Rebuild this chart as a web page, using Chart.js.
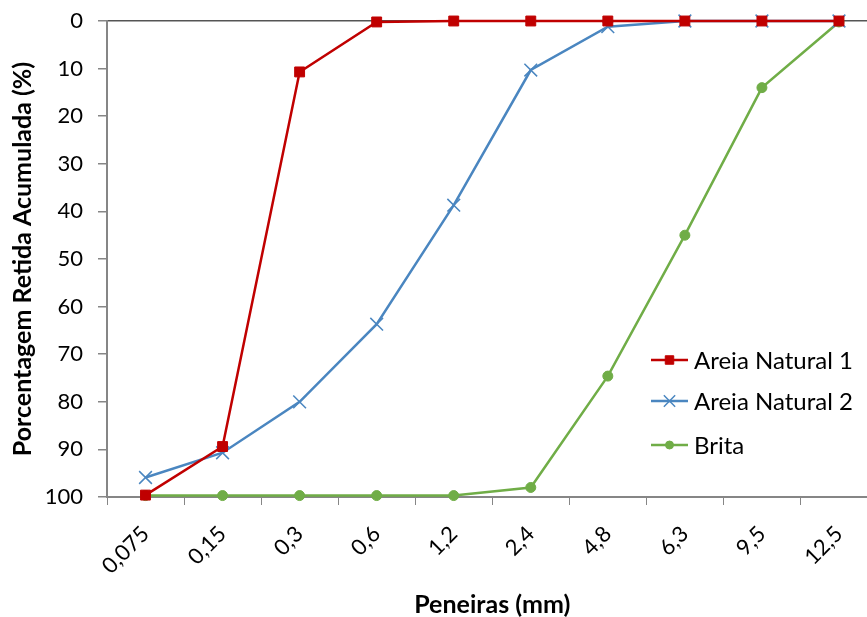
<!DOCTYPE html>
<html>
<head>
<meta charset="utf-8">
<script src="https://cdn.jsdelivr.net/npm/chart.js@4.4.1/dist/chart.umd.min.js"></script>
<style>
  html, body { margin: 0; padding: 0; background: #fff; overflow: hidden; }
  #wrap { width: 888px; height: 617px; }
</style>
</head>
<body>
<div id="wrap"><canvas id="chart" width="888" height="617"></canvas></div>
<script>
// sieve sizes (mm)
const peneiras = ['0,075', '0,15', '0,3', '0,6', '1,2', '2,4', '4,8', '6,3', '9,5', '12,5'];

// cumulative retained (%)
const areiaNatural1 = [99.6, 89.4, 10.7, 0.2, 0, 0, 0, 0, 0, 0];
const areiaNatural2 = [95.9, 90.7, 80.0, 63.7, 38.7, 10.3, 1.2, 0, 0, 0];
const brita = [99.7, 99.7, 99.7, 99.7, 99.7, 98.0, 74.6, 45.0, 14.0, 0.2];

const yTicks = [0, 10, 20, 30, 40, 50, 60, 70, 80, 90, 100];

const FONT = 'Lato, "Open Sans", sans-serif';
const AXIS_GRAY = '#868686';

// legend drawn inside the plot, like the Excel one
const insideLegend = {
  id: 'insideLegend',
  afterDraw(chart) {
    const ctx = chart.ctx;
    const x0 = 651, x1 = 688, tx = 694;
    const rows = [360, 401, 445];
    ctx.save();
    ctx.textBaseline = 'middle';
    chart.data.datasets.forEach((ds, i) => {
      const y = rows[i];
      ctx.strokeStyle = ds.borderColor;
      ctx.lineWidth = 2.5;
      ctx.beginPath();
      ctx.moveTo(x0, y);
      ctx.lineTo(x1, y);
      ctx.stroke();
      ctx.fillStyle = ds.pointBackgroundColor || ds.borderColor;
      ctx.strokeStyle = ds.pointBorderColor || ds.borderColor;
      ctx.lineWidth = ds.pointBorderWidth || 1;
      Chart.helpers.drawPoint(ctx, {
        pointStyle: ds.pointStyle,
        radius: ds.pointRadius - 1,
        borderWidth: ds.pointBorderWidth || 1
      }, (x0 + x1) / 2, y);
      ctx.fillStyle = '#000';
      ctx.font = '24px ' + FONT;
      ctx.fillText(ds.label, tx, y + 1);
    });
    ctx.restore();
  }
};

const ctx = document.getElementById('chart').getContext('2d');
const chart = new Chart(ctx, {
  type: 'line',
  data: {
    labels: peneiras,
    datasets: [
      {
        label: 'Areia Natural 1',
        data: areiaNatural1,
        borderColor: '#C00000',
        backgroundColor: '#C00000',
        borderWidth: 2.5,
        pointStyle: 'rect',
        pointRadius: 7,
        pointBorderWidth: 1,
        pointBackgroundColor: '#C00000',
        pointBorderColor: '#C00000'
      },
      {
        label: 'Areia Natural 2',
        data: areiaNatural2,
        borderColor: '#4A86C0',
        backgroundColor: '#4A86C0',
        borderWidth: 2.5,
        pointStyle: 'crossRot',
        pointRadius: 9,
        pointBorderWidth: 1.5,
        pointBorderColor: '#4A86C0'
      },
      {
        label: 'Brita',
        data: brita,
        borderColor: '#70AD47',
        backgroundColor: '#70AD47',
        borderWidth: 2.5,
        pointStyle: 'circle',
        pointRadius: 5,
        pointBorderWidth: 1,
        pointBackgroundColor: '#70AD47',
        pointBorderColor: '#70AD47'
      }
    ]
  },
  options: {
    responsive: false,
    animation: false,
    clip: false,
    layout: { padding: { top: 21, right: 2, left: 0, bottom: 0 } },
    plugins: {
      legend: { display: false },
      tooltip: { enabled: false }
    },
    scales: {
      x: {
        offset: true,
        grid: {
          offset: true,
          drawOnChartArea: false,
          color: AXIS_GRAY,
          tickLength: 8
        },
        border: { color: AXIS_GRAY, width: 2 },
        ticks: {
          minRotation: 45,
          maxRotation: 45,
          padding: 16,
          color: '#000',
          font: { family: FONT, size: 22 }
        },
        title: {
          display: true,
          text: 'Peneiras (mm)',
          color: '#000',
          font: { family: FONT, size: 25, weight: 'bold', lineHeight: 1 },
          padding: { top: 0, bottom: 0 }
        },
        afterFit(scale) { scale.height = 120; }
      },
      y: {
        reverse: true,
        min: 0,
        max: 100,
        afterBuildTicks(scale) { scale.ticks = yTicks.map(v => ({ value: v })); },
        grid: {
          color: c => c.tick && c.tick.value === 0 ? '#555' : 'rgba(0,0,0,0)',
          tickColor: AXIS_GRAY,
          tickLength: 9,
          lineWidth: 1.5
        },
        border: { color: AXIS_GRAY, width: 2 },
        ticks: {
          color: '#000',
          padding: 15,
          font: { family: FONT, size: 22 }
        },
        title: {
          display: true,
          text: 'Porcentagem Retida Acumulada (%)',
          color: '#000',
          font: { family: FONT, size: 25, weight: 'bold', lineHeight: 1 },
          padding: { top: 10, bottom: 0 }
        },
        afterFit(scale) {
          scale.width = 107;
          scale.paddingTop = 0;
          scale.paddingBottom = 0;
        }
      }
    }
  },
  plugins: [insideLegend]
});
</script>
</body>
</html>
